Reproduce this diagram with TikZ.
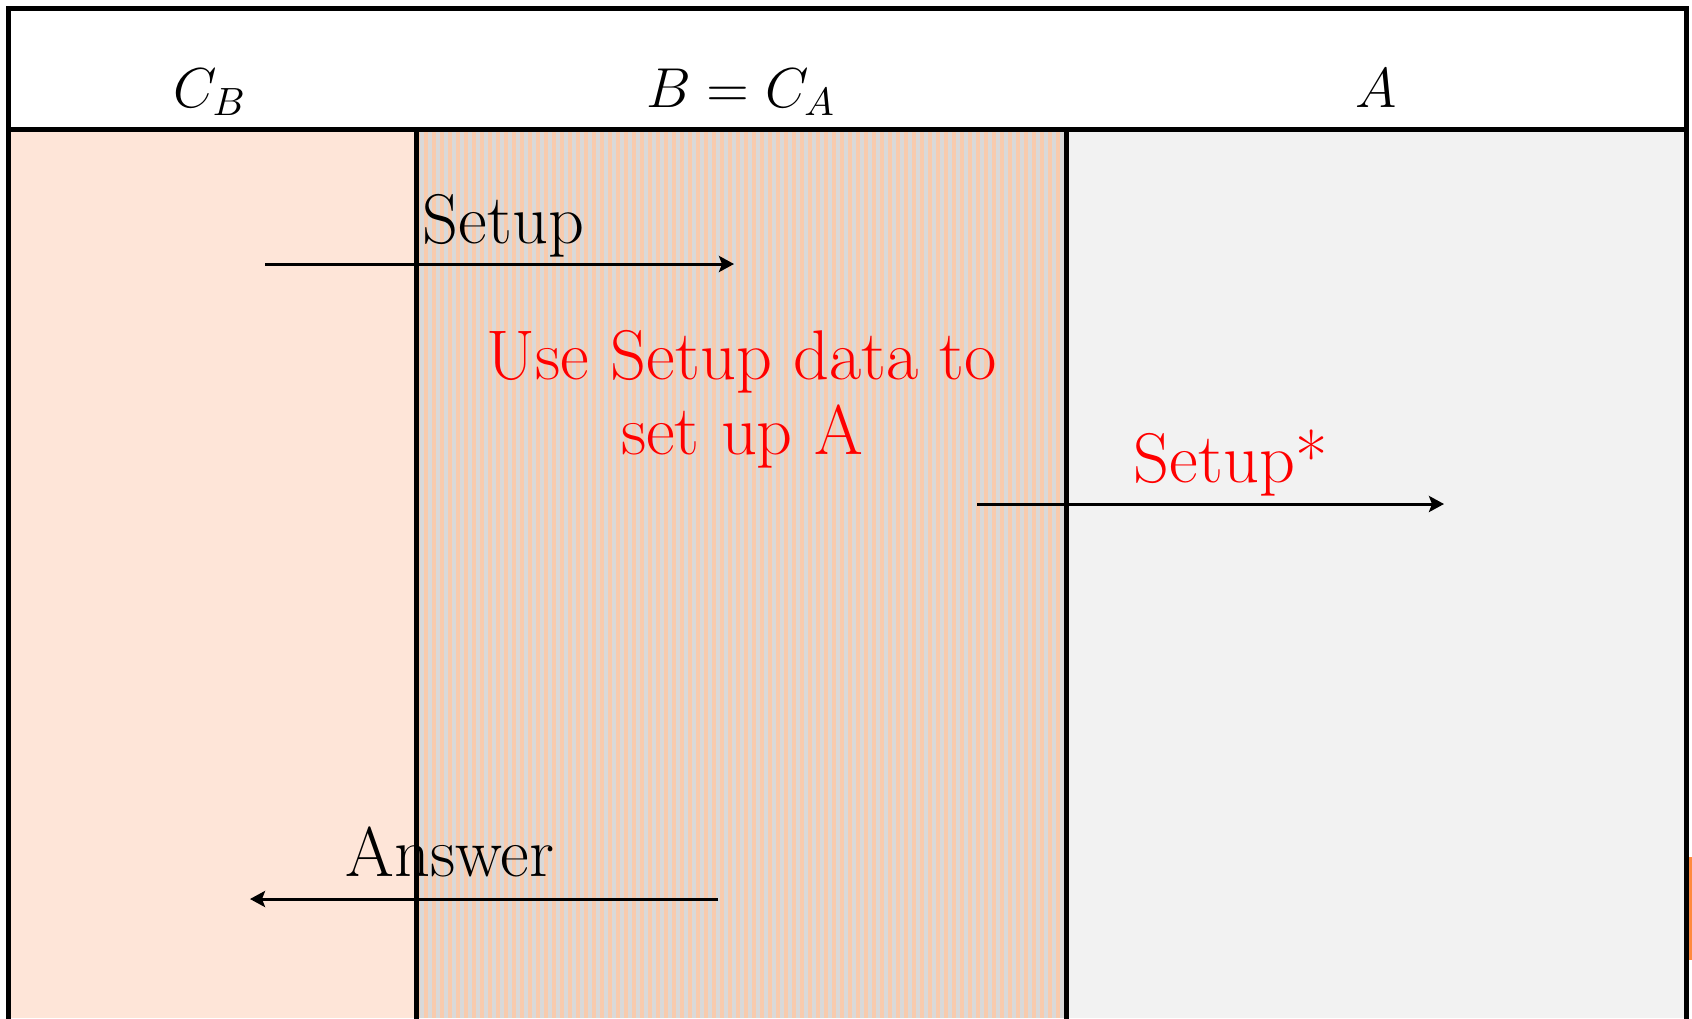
\RequirePackage{fix-cm}
\documentclass[tikz,border=0pt]{standalone}
\usepackage{amsmath}
\usetikzlibrary{arrows.meta}

\definecolor{cbfill}{HTML}{FEE5D8}
\definecolor{stripeorange}{HTML}{F8CBAD}
\definecolor{stripegray}{HTML}{D9D9D9}
\definecolor{afill}{HTML}{F2F2F2}
\definecolor{sliver}{HTML}{FF8A3D}

\begin{document}
\begin{tikzpicture}[x=0.01cm,y=-0.01cm,
    >={Stealth[length=0.15cm,width=0.16cm,inset=0.03cm]},
    frame/.style={line width=0.05cm,line cap=rect},
    msg/.style={->,line width=0.03cm},
    hdr/.style={anchor=base,inner sep=0pt,font=\fontsize{16}{19}\selectfont},
    lbl/.style={inner sep=0pt,font=\fontsize{20}{21.3}\selectfont}]
  \useasboundingbox (0,0) rectangle (1692,1018);

  % lanes
  \fill[cbfill] (8.5,129) rectangle (416.5,1018);
  \fill[stripeorange] (416.5,129) rectangle (1066,1018);
  \foreach \x in {420,428,...,1060}
    \fill[stripegray] (\x,129) rectangle (\x+4,1018);
  \fill[afill] (1066,129) rectangle (1686.5,1018);
  \fill[sliver] (1689,857) rectangle (1692,960);

  % frame
  \draw[frame] (8.5,1018) -- (8.5,8.5) -- (1686.5,8.5) -- (1686.5,1018);
  \draw[frame] (8.5,129) -- (1686.5,129);
  \draw[frame] (416.5,129) -- (416.5,1018);
  \draw[frame] (1066,129) -- (1066,1018);

  % headers
  \node[hdr] (hdrCB) at (210,107) {$C_B$};
  \node[hdr] (hdrB) at (741,107) {$B = C_A$};
  \node[hdr] (hdrA) at (1376,107) {$A$};

  % messages
  \coordinate (setupS) at (265,264);
  \coordinate (setupE) at (734,264);
  \draw[msg] (setupS) -- (setupE);
  \node[lbl,anchor=base west] (setupLbl) at (422,243) {Setup};

  \node[lbl,align=center,text=red] (useSetup) at (742,399)
    {Use Setup data to\\set up A};

  \coordinate (starS) at (977,504);
  \coordinate (starE) at (1444,504);
  \draw[msg] (starS) -- (starE);
  \node[lbl,anchor=base west,text=red] (setupStar) at (1133,482) {Setup*};

  \coordinate (answerS) at (718,899);
  \coordinate (answerE) at (250,899);
  \draw[msg] (answerS) -- (answerE);
  \node[lbl,anchor=base west] (answerLbl) at (345,876) {Answer};
\end{tikzpicture}
\end{document}
